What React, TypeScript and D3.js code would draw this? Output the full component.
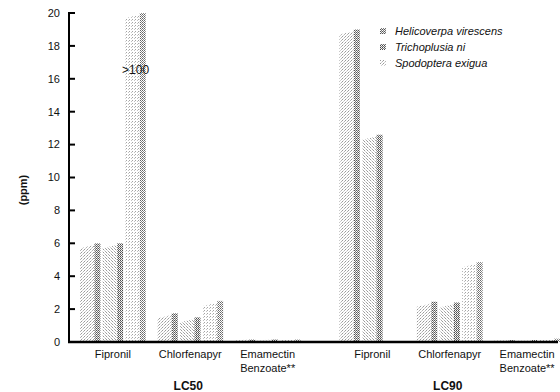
import React from "react";
import * as d3 from "d3";

const panels = ["LC50", "LC90"];
const compounds = ["Fipronil", "Chlorfenapyr", "Emamectin Benzoate**"];
const compoundLines = [["Fipronil"], ["Chlorfenapyr"], ["Emamectin", "Benzoate**"]];
const species = ["Helicoverpa virescens", "Trichoplusia ni", "Spodoptera exigua"];
// values[panel][compound][species]; null = not drawn
const lc50Values: (number | null)[][] = [
  [6.0, 6.0, 100],
  [1.75, 1.5, 2.5],
  [0.15, 0.15, 0.15],
];
const lc90Values: (number | null)[][] = [
  [19.0, 12.6, null],
  [2.45, 2.4, 4.85],
  [0.12, 0.12, 0.2],
];
const yTicks = [0, 2, 4, 6, 8, 10, 12, 14, 16, 18, 20];

const W = 560;
const H = 392;
const font = "'Liberation Sans', Arial, Helvetica, sans-serif";

export default function App() {
  const y = d3.scaleLinear().domain([0, 20]).range([342, 13]);
  const xPanel = d3.scaleBand<string>().domain(panels).range([80, 560]).paddingInner(0.15).paddingOuter(0);
  const xComp = d3.scaleBand<string>().domain(compounds).range([0, xPanel.bandwidth()]).paddingInner(0.15);
  const xSp = d3.scaleBand<string>().domain(species).range([0, xComp.bandwidth()]).paddingInner(0.1);
  const data = [lc50Values, lc90Values];
  const edge = 6;
  const bodyPat = ["pLight1", "pLight2", "pLight3"];
  const edgePat = ["pDark1", "pDark2", "pDark3"];

  const bars: React.ReactNode[] = [];
  const overLabels: React.ReactNode[] = [];
  panels.forEach((p, pi) => {
    compounds.forEach((c, ci) => {
      species.forEach((s, si) => {
        const v = data[pi][ci][si];
        if (v === null) return;
        const shown = Math.min(v, 20);
        const x0 = xPanel(p)! + xComp(c)! + xSp(s)!;
        const bw = xSp.bandwidth();
        const x1 = x0 + bw;
        const yt = y(shown);
        const yb = y(0);
        const slant = Math.min(5, (yb - yt) * 0.3);
        const bodyPath = `M${x0},${yb}L${x0},${yt + slant}L${x1 - edge},${yt + slant * 0.35}L${x1 - edge},${yb}Z`;
        bars.push(
          <g key={`${p}-${c}-${s}`}>
            <path d={bodyPath} fill={`url(#${bodyPat[si]})`} />
            <rect x={x1 - edge} y={yt} width={edge} height={yb - yt} fill={`url(#${edgePat[si]})`} />
          </g>
        );
        if (v > 20) {
          overLabels.push(
            <text key={`ol-${p}-${c}-${s}`} x={x0 + bw / 2} y={y(16.3)} textAnchor="middle" fontSize={12} fontFamily={font} fill="#111">
              {">100"}
            </text>
          );
        }
      });
    });
  });

  return (
    <svg width={W} height={H} style={{ position: "absolute", left: 0, top: 0, background: "#fff" }}>
      <defs>
        <pattern id="pLight1" width={3} height={3} patternUnits="userSpaceOnUse">
          <rect x={0} y={0} width={1} height={1} fill="#999" />
          <rect x={2} y={1} width={1} height={1} fill="#b4b4b4" />
          <rect x={1} y={2} width={1} height={1} fill="#d0d0d0" />
        </pattern>
        <pattern id="pLight2" width={3} height={3} patternUnits="userSpaceOnUse">
          <rect x={1} y={0} width={1} height={1} fill="#999" />
          <rect x={0} y={2} width={1} height={1} fill="#aaa" />
          <rect x={2} y={1} width={1} height={1} fill="#d4d4d4" />
        </pattern>
        <pattern id="pLight3" width={3} height={3} patternUnits="userSpaceOnUse">
          <rect x={0} y={1} width={1} height={1} fill="#a4a4a4" />
          <rect x={2} y={2} width={1} height={1} fill="#c4c4c4" />
        </pattern>
        <pattern id="pDark1" width={2} height={2} patternUnits="userSpaceOnUse">
          <rect x={0} y={0} width={1} height={1} fill="#555" />
          <rect x={1} y={1} width={1} height={1} fill="#777" />
          <rect x={1} y={0} width={1} height={1} fill="#ddd" />
        </pattern>
        <pattern id="pDark2" width={2} height={2} patternUnits="userSpaceOnUse">
          <rect x={0} y={0} width={1} height={1} fill="#4a4a4a" />
          <rect x={1} y={1} width={1} height={1} fill="#707070" />
          <rect x={0} y={1} width={1} height={1} fill="#ddd" />
        </pattern>
        <pattern id="pDark3" width={2} height={2} patternUnits="userSpaceOnUse">
          <rect x={0} y={0} width={1} height={1} fill="#666" />
          <rect x={1} y={1} width={1} height={1} fill="#888" />
        </pattern>
      </defs>

      {bars}
      {overLabels}

      {/* y axis */}
      <line x1={69} x2={69} y1={y(20) - 1} y2={y(0) + 1} stroke="#000" strokeWidth={2} />
      {yTicks.map((t) => (
        <g key={t}>
          <line x1={69} x2={75} y1={y(t)} y2={y(t)} stroke="#000" strokeWidth={2} />
          <text x={60} y={y(t)} dy="0.35em" textAnchor="end" fontSize={11} fontFamily={font} fill="#111">
            {t}
          </text>
        </g>
      ))}
      {/* x axis */}
      <line x1={68} x2={558} y1={y(0)} y2={y(0)} stroke="#000" strokeWidth={2.5} />

      {/* category labels */}
      {panels.map((p) =>
        compounds.map((c, ci) => {
          const cx = xPanel(p)! + xComp(c)! + xComp.bandwidth() / 2;
          return (
            <text key={`${p}-${c}`} x={cx} y={358} textAnchor="middle" fontSize={11} fontFamily={font} fill="#111">
              {compoundLines[ci].map((ln, li) => (
                <tspan key={li} x={cx} dy={li === 0 ? 0 : 14}>
                  {ln}
                </tspan>
              ))}
            </text>
          );
        })
      )}
      {panels.map((p) => (
        <text key={p} x={xPanel(p)! + xComp("Chlorfenapyr")! + xComp.bandwidth() / 2 - 2} y={390} textAnchor="middle" fontSize={12} fontWeight="bold" fontFamily={font} fill="#111">
          {p}
        </text>
      ))}

      {/* y label */}
      <text transform="translate(27,190) rotate(-90)" textAnchor="middle" fontSize={11} fontWeight="bold" fontFamily={font} fill="#111">
        (ppm)
      </text>

      {/* legend */}
      {species.map((s, i) => (
        <g key={s} transform={`translate(380,${31 + i * 16})`}>
          <rect x={0} y={-3} width={6} height={6} fill={`url(#${i === 2 ? "pLight1" : edgePat[i]})`} />
          <text x={15} y={0} dy="0.35em" fontSize={11} fontStyle="italic" fontFamily={font} fill="#111">
            {s}
          </text>
        </g>
      ))}
    </svg>
  );
}
